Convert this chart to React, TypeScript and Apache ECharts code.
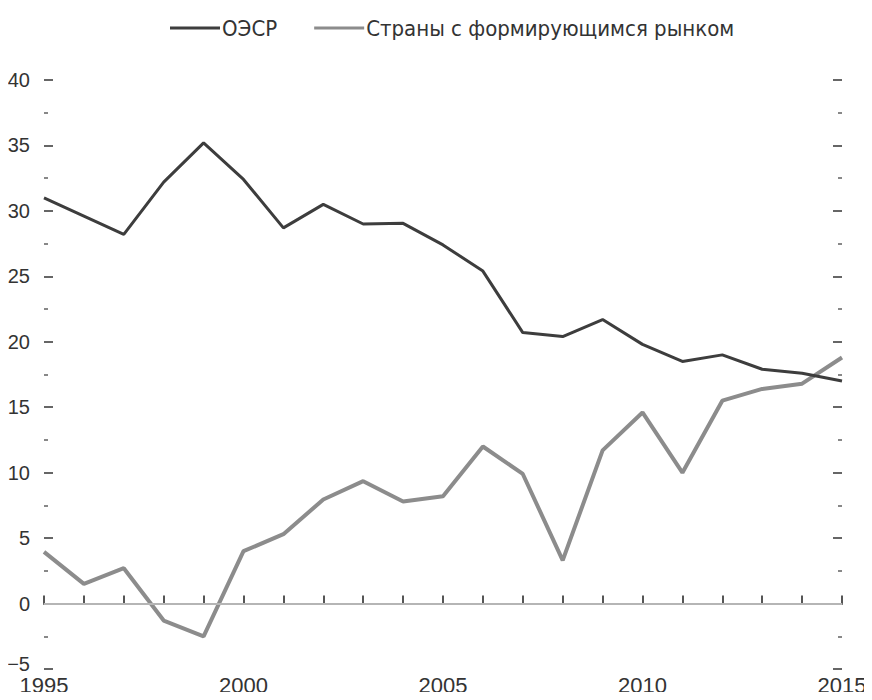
import React, { useEffect, useRef } from "react";
import * as echarts from "echarts";

const years = ["1995","1996","1997","1998","1999","2000","2001","2002","2003","2004","2005","2006","2007","2008","2009","2010","2011","2012","2013","2014","2015"];
const oecd = [31.0, 29.6, 28.2, 32.2, 35.2, 32.4, 28.7, 30.5, 29.0, 29.05, 27.4, 25.4, 20.7, 20.4, 21.7, 19.8, 18.5, 19.0, 17.9, 17.6, 17.0];
const emerging = [3.95, 1.5, 2.7, -1.3, -2.5, 4.0, 5.3, 7.95, 9.35, 7.8, 8.2, 12.0, 9.9, 3.3, 11.7, 14.6, 10.0, 15.5, 16.4, 16.8, 18.8];
const seriesNames = ["ОЭСР", "Страны с формирующимся рынком"];

export default function App() {
  const ref = useRef<HTMLDivElement>(null);
  useEffect(() => {
    if (!ref.current) return;
    const chart = echarts.init(ref.current, null, { renderer: "svg" });
    const yBase = {
      type: "value",
      min: -5,
      max: 40,
      interval: 5,
      axisLine: { show: false },
      splitLine: { show: false },
      axisTick: { show: true, inside: true, length: 9, lineStyle: { color: "#666", width: 2 } },
      minorTick: { show: true, splitNumber: 2, length: 4, lineStyle: { color: "#888", width: 2 } },
    };
    chart.setOption({
      animation: false,
      backgroundColor: "#fff",
      textStyle: { fontFamily: "Liberation Sans, Arial, sans-serif" },
      legend: {
        left: 165,
        top: 12,
        itemWidth: 50,
        itemHeight: 3,
        itemGap: 37,
        textStyle: { fontFamily: "Liberation Sans Narrow, DejaVu Sans Condensed, sans-serif", fontSize: 22, color: "#333", padding: [0, 0, 0, -3] },
        data: [
          { name: seriesNames[0], icon: "rect", itemStyle: { color: "#3d3d3d" } },
          { name: seriesNames[1], icon: "rect", itemStyle: { color: "#8c8c8c" } },
        ],
      },
      grid: { left: 44, right: 30, top: 80, bottom: 31, containLabel: false },
      xAxis: {
        type: "category",
        data: years,
        boundaryGap: false,
        axisLine: { lineStyle: { color: "#555", width: 2 } },
        axisTick: { show: true, inside: true, length: 8, interval: 0, lineStyle: { color: "#555", width: 2 } },
        axisLabel: { interval: 4, fontSize: 22, lineHeight: 18, color: "#333", margin: 7 },
        splitLine: { show: false },
      },
      yAxis: [
        {
          ...yBase,
          position: "left",
          axisLabel: {
            show: true,
            fontSize: 20,
            lineHeight: 14,
            color: "#333",
            margin: 14,
            formatter: (v: number) => (v < 0 ? "{lo|" + String(v).replace("-", "\u2212") + "}" : String(v)),
            rich: { lo: { fontSize: 20, lineHeight: 12, color: "#333", padding: [0, 0, 10, 0] } },
          },
        },
        {
          ...yBase,
          position: "right",
          axisLabel: { show: false },
        },
      ],
      series: [
        {
          name: seriesNames[0],
          type: "line",
          data: oecd,
          symbol: "none",
          lineStyle: { color: "#3d3d3d", width: 3 },
          itemStyle: { color: "#3d3d3d" },
          z: 3,
        },
        {
          name: seriesNames[1],
          type: "line",
          data: emerging,
          symbol: "none",
          lineStyle: { color: "#8c8c8c", width: 4 },
          itemStyle: { color: "#8c8c8c" },
          z: 2,
          markLine: {
            silent: true,
            symbol: "none",
            label: { show: false },
            lineStyle: { color: "#b5b5b5", width: 2, type: "solid" },
            data: [{ yAxis: 0 }],
          },
        },
      ],
    });
    return () => chart.dispose();
  }, []);
  return <div ref={ref} style={{ width: 872, height: 700, margin: -8 }} />;
}
